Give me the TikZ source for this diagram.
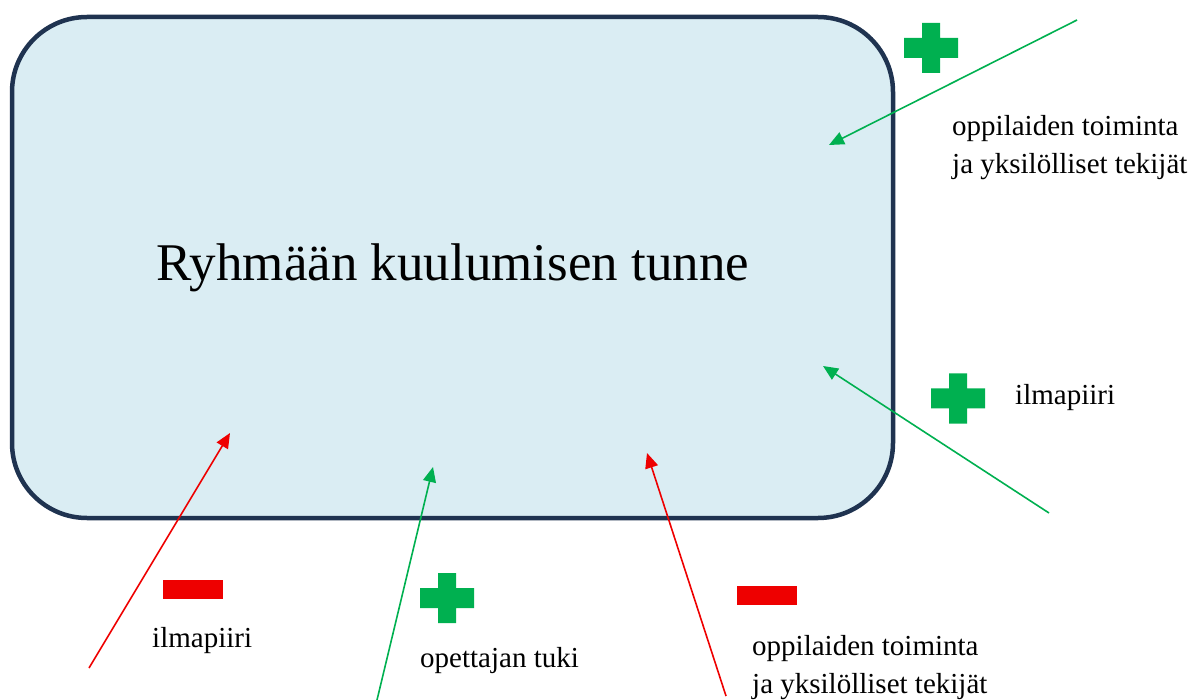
\documentclass[tikz,border=0pt]{standalone}
\usepackage{fontspec}
\setmainfont{Liberation Serif}
\usetikzlibrary{arrows.meta}
\definecolor{boxline}{HTML}{1F3350}
\definecolor{boxfill}{HTML}{DAEDF3}
\definecolor{posgreen}{HTML}{00B050}
\definecolor{negred}{HTML}{EE0000}
\tikzset{
  x=1pt, y=-1pt,
  mainbox/.style={draw=boxline, line width=4.5pt, fill=boxfill, rounded corners=75pt},
  label/.style={inner sep=0pt, anchor=west, align=left, font=\fontsize{29}{38}\selectfont},
  posarrow/.style={draw=posgreen, line width=1.6pt, -{Triangle[length=15pt,width=13pt]}},
  negarrow/.style={draw=negred, line width=1.6pt, -{Triangle[length=15pt,width=13pt]}},
  pics/plusmark/.style={code={
    \fill[posgreen] (-27,-10) -- (-9,-10) -- (-9,-25) -- (9,-25) -- (9,-10) -- (27,-10)
      -- (27,10) -- (9,10) -- (9,25) -- (-9,25) -- (-9,10) -- (-27,10) -- cycle;}},
  pics/minusmark/.style={code={
    \fill[negred] (-30,-9.5) rectangle (30,9.5);}}
}
\begin{document}
\begin{tikzpicture}
\useasboundingbox (0,0) rectangle (1194,700);

% central box
\draw[mainbox] (12,17) rectangle (893,518);
\node[inner sep=0pt, font=\fontsize{53}{60}\selectfont] (title) at (453,268) {Ryhmään kuulumisen tunne};

% factor labels
\node[label] (lblTR) at (952,148) {oppilaiden toiminta\\ja yksilölliset tekijät};
\node[label] (lblR)  at (1015,398) {ilmapiiri};
\node[label] (lblL)  at (152,641) {ilmapiiri};
\node[label] (lblB)  at (420,661) {opettajan tuki};
\node[label] (lblBR) at (752,668) {oppilaiden toiminta\\ja yksilölliset tekijät};

% plus / minus signs
\pic (plusTR) at (931,48) {plusmark};
\pic (plusR)  at (958,398.5) {plusmark};
\pic (plusB)  at (447,598) {plusmark};
\pic (minusL) at (193,589.5) {minusmark};
\pic (minusBR) at (766.5,595.5) {minusmark};

% arrow ends
\coordinate (sTR) at (1077,20);   \coordinate (eTR) at (829,145);
\coordinate (sR)  at (1049,513);  \coordinate (eR)  at (823,366);
\coordinate (sL)  at (89,668);    \coordinate (eL)  at (230,433);
\coordinate (sB)  at (377,700);   \coordinate (eB)  at (433,467);
\coordinate (sBR) at (726,696);   \coordinate (eBR) at (647,453);

\draw[posarrow] (sTR) -- (eTR);
\draw[posarrow] (sR) -- (eR);
\draw[negarrow] (sL) -- (eL);
\draw[posarrow] (sB) -- (eB);
\draw[negarrow] (sBR) -- (eBR);
\end{tikzpicture}
\end{document}
